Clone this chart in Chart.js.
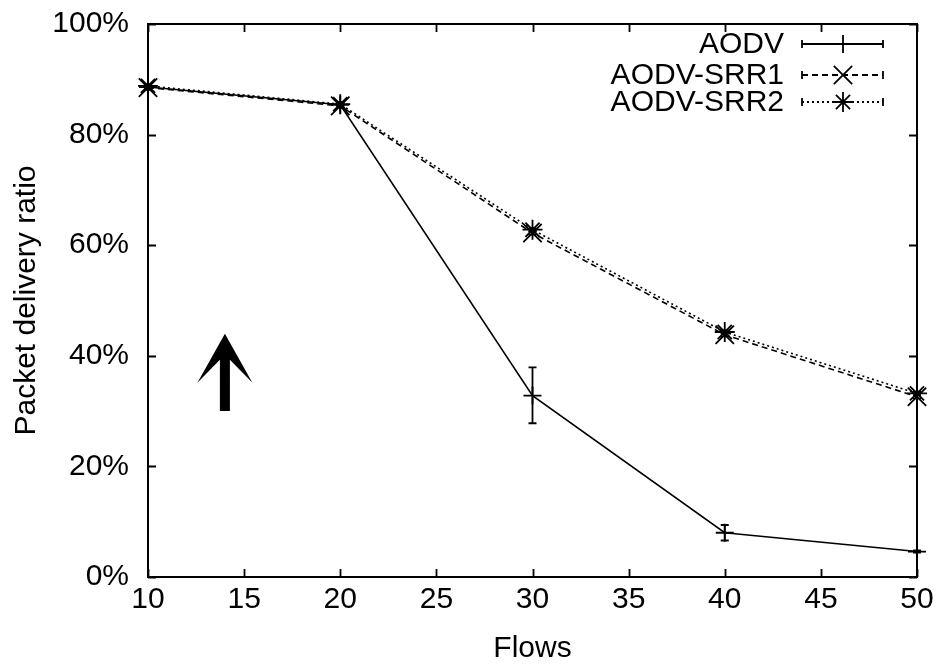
<!DOCTYPE html>
<html>
<head>
<meta charset="utf-8">
<title>Packet delivery ratio</title>
<script src="https://cdn.jsdelivr.net/npm/chart.js@4.4.1/dist/chart.umd.min.js"></script>
<style>
  html, body { margin: 0; padding: 0; background: #fff; }
  canvas { display: block; }
</style>
</head>
<body>
<canvas id="grafico" width="943" height="669"></canvas>
<script>
// Datos: número de flujos y ratio de entrega (%)
const flows = [10, 20, 30, 40, 50];
const aodv = [88.6, 85.4, 32.8, 8.0, 4.6];
const aodvLow = [88.1, 84.9, 27.8, 6.6, 4.4];
const aodvHigh = [89.1, 85.9, 37.9, 9.4, 4.8];
const srr1 = [88.5, 85.2, 62.2, 43.8, 32.6];
const srr1Low = [88.2, 84.9, 61.9, 43.5, 32.3];
const srr1High = [88.8, 85.5, 62.5, 44.1, 32.9];
const srr2 = [88.8, 85.5, 62.8, 44.3, 33.2];
const srr2Low = [88.5, 85.2, 62.5, 44.0, 32.9];
const srr2High = [89.1, 85.8, 63.1, 44.6, 33.5];
const xTicks = [10, 15, 20, 25, 30, 35, 40, 45, 50];
const yTicks = [0, 20, 40, 60, 80, 100];
// flecha: x, y inicio, y final (en unidades de datos)
const flecha = { x: 14, desde: 30, hasta: 44 };

const FUENTE = '"Liberation Sans", Arial, sans-serif';
const TAM = 30;

function puntos(ys) {
    return flows.map((x, i) => ({ x: x, y: ys[i] }));
}

// Barras de error verticales con remates
const errorBars = {
    id: 'errorBars',
    afterDatasetsDraw(chart) {
        const ctx = chart.ctx;
        const xs = chart.scales.x, ys = chart.scales.y;
        chart.data.datasets.forEach(ds => {
            if (!ds.low) return;
            ctx.save();
            ctx.strokeStyle = '#000';
            ctx.lineWidth = 1.8;
            ctx.setLineDash([]);
            flows.forEach((f, i) => {
                const px = xs.getPixelForValue(f);
                const y1 = ys.getPixelForValue(ds.low[i]);
                const y2 = ys.getPixelForValue(ds.high[i]);
                ctx.beginPath();
                ctx.moveTo(px, y1); ctx.lineTo(px, y2);
                ctx.moveTo(px - 4, y1); ctx.lineTo(px + 4, y1);
                ctx.moveTo(px - 4, y2); ctx.lineTo(px + 4, y2);
                ctx.stroke();
            });
            ctx.restore();
        });
    }
};

// Marco con marcas hacia dentro en los cuatro lados
const marco = {
    id: 'marco',
    afterDraw(chart) {
        const ctx = chart.ctx;
        const a = chart.chartArea;
        const xs = chart.scales.x, ys = chart.scales.y;
        const t = 8;
        ctx.save();
        ctx.strokeStyle = '#000';
        ctx.lineWidth = 1.8;
        ctx.beginPath();
        xTicks.forEach(v => {
            const px = Math.round(xs.getPixelForValue(v)) + 0.5;
            ctx.moveTo(px, a.bottom); ctx.lineTo(px, a.bottom - t);
            ctx.moveTo(px, a.top); ctx.lineTo(px, a.top + t);
        });
        yTicks.forEach(v => {
            const py = Math.round(ys.getPixelForValue(v)) + 0.5;
            ctx.moveTo(a.left, py); ctx.lineTo(a.left + t, py);
            ctx.moveTo(a.right, py); ctx.lineTo(a.right - t, py);
        });
        ctx.stroke();
        ctx.lineWidth = 2;
        ctx.strokeRect(a.left, a.top, a.right - a.left, a.bottom - a.top);
        ctx.restore();
    }
};

// Flecha rellena
const dibujaFlecha = {
    id: 'flecha',
    afterDraw(chart) {
        const ctx = chart.ctx;
        const xs = chart.scales.x, ys = chart.scales.y;
        const px = xs.getPixelForValue(flecha.x);
        const yTail = ys.getPixelForValue(flecha.desde);
        const yTip = ys.getPixelForValue(flecha.hasta);
        ctx.save();
        ctx.fillStyle = '#000';
        ctx.beginPath();
        ctx.moveTo(px, yTip);
        ctx.lineTo(px + 27.5, yTip + 49);
        ctx.lineTo(px + 5, yTip + 26);
        ctx.lineTo(px + 5, yTail);
        ctx.lineTo(px - 5, yTail);
        ctx.lineTo(px - 5, yTip + 26);
        ctx.lineTo(px - 27.5, yTip + 49);
        ctx.closePath();
        ctx.fill();
        ctx.restore();
    }
};

// Leyenda al estilo gnuplot (texto a la derecha, muestra con marcador)
const leyenda = {
    id: 'leyenda',
    afterDraw(chart) {
        const ctx = chart.ctx;
        const filas = [44, 75, 102];
        ctx.save();
        chart.data.datasets.forEach((ds, i) => {
            const y = filas[i];
            ctx.fillStyle = '#000';
            ctx.font = TAM + 'px ' + FUENTE;
            ctx.textAlign = 'right';
            ctx.textBaseline = 'middle';
            ctx.fillText(ds.label, 784, y + 1);
            ctx.strokeStyle = '#000';
            ctx.lineWidth = 1.8;
            ctx.setLineDash(ds.borderDash || []);
            ctx.beginPath();
            ctx.moveTo(802, y); ctx.lineTo(883, y);
            ctx.stroke();
            ctx.setLineDash([]);
            ctx.beginPath();
            ctx.moveTo(802, y - 4); ctx.lineTo(802, y + 4);
            ctx.moveTo(883, y - 4); ctx.lineTo(883, y + 4);
            ctx.stroke();
            Chart.helpers.drawPoint(ctx, {
                pointStyle: ds.pointStyle,
                radius: ds.pointRadius,
                borderWidth: 1.8
            }, 843, y);
        });
        ctx.restore();
    }
};

const ctx = document.getElementById('grafico').getContext('2d');
new Chart(ctx, {
    type: 'line',
    data: {
        datasets: [{
            label: 'AODV',
            data: puntos(aodv),
            low: aodvLow,
            high: aodvHigh,
            borderColor: '#000',
            borderWidth: 1.6,
            pointStyle: 'cross',
            pointRadius: 9,
            pointBorderWidth: 1.8,
            pointBorderColor: '#000',
            clip: false
        }, {
            label: 'AODV-SRR1',
            data: puntos(srr1),
            low: srr1Low,
            high: srr1High,
            borderColor: '#000',
            borderWidth: 1.6,
            borderDash: [6, 4],
            pointStyle: 'crossRot',
            pointRadius: 13,
            pointBorderWidth: 1.8,
            pointBorderColor: '#000',
            clip: false
        }, {
            label: 'AODV-SRR2',
            data: puntos(srr2),
            low: srr2Low,
            high: srr2High,
            borderColor: '#000',
            borderWidth: 1.6,
            borderDash: [2, 3],
            pointStyle: 'star',
            pointRadius: 10,
            pointBorderWidth: 1.8,
            pointBorderColor: '#000',
            clip: false
        }]
    },
    options: {
        responsive: false,
        animation: false,
        events: [],
        layout: { padding: { top: 24, right: 26, left: 0, bottom: 0 } },
        plugins: {
            legend: { display: false },
            tooltip: { enabled: false }
        },
        scales: {
            x: {
                type: 'linear',
                min: 10,
                max: 50,
                afterFit: s => { s.height = 92; s.paddingLeft = 0; s.paddingRight = 0; },
                afterBuildTicks: s => { s.ticks = xTicks.map(v => ({ value: v })); },
                grid: { display: false, drawTicks: false },
                border: { display: false },
                ticks: {
                    color: '#000',
                    padding: 5,
                    font: { family: FUENTE, size: TAM }
                },
                title: {
                    display: true,
                    text: 'Flows',
                    color: '#000',
                    padding: { top: 0, bottom: 2 },
                    font: { family: FUENTE, size: TAM }
                }
            },
            y: {
                min: 0,
                max: 100,
                afterFit: s => { s.width = 148; s.paddingTop = 0; s.paddingBottom = 0; },
                afterBuildTicks: s => { s.ticks = yTicks.map(v => ({ value: v })); },
                grid: { display: false, drawTicks: false },
                border: { display: false },
                ticks: {
                    color: '#000',
                    padding: 19,
                    font: { family: FUENTE, size: TAM },
                    callback: v => v + '%'
                },
                title: {
                    display: true,
                    text: 'Packet delivery ratio',
                    color: '#000',
                    padding: { top: 9, bottom: 0 },
                    font: { family: FUENTE, size: TAM }
                }
            }
        }
    },
    plugins: [errorBars, marco, dibujaFlecha, leyenda]
});
</script>
</body>
</html>
